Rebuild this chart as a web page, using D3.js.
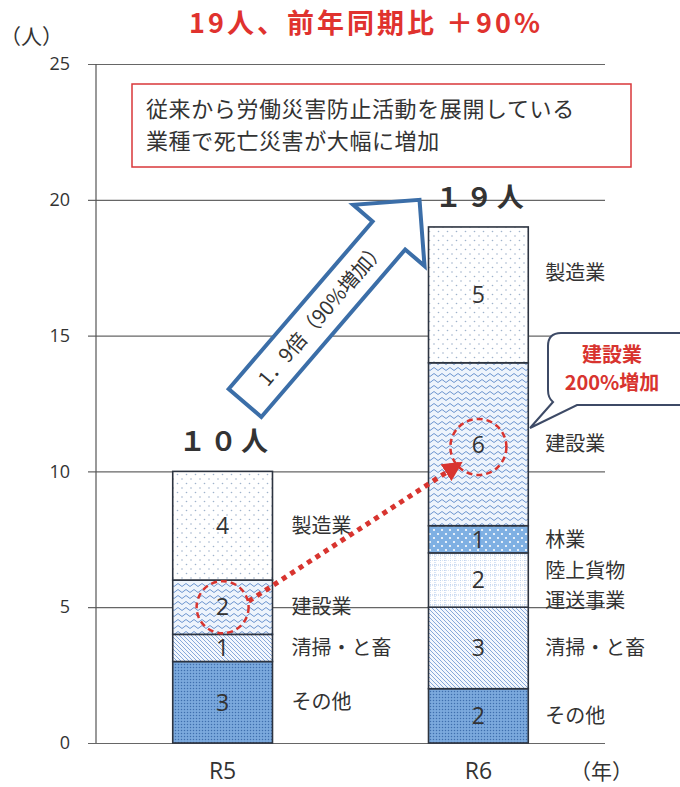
<!DOCTYPE html>
<html><head><meta charset="utf-8">
<script src="https://cdn.jsdelivr.net/npm/d3@7"></script>
<style>
body{margin:0;background:#fff;}
text{font-family:"Noto Sans CJK JP","Noto Sans",sans-serif;}
</style></head>
<body><svg id="c" width="680" height="787"></svg>
<script>
// ---- data ----
const years = ["R5", "R6"];
const categories = ["その他", "清掃・と畜", "陸上貨物運送事業", "林業", "建設業", "製造業"];
const catLabels = [["その他"], ["清掃・と畜"], ["陸上貨物", "運送事業"], ["林業"], ["建設業"], ["製造業"]];
const valuesR5 = [3, 1, 0, 0, 2, 4];
const valuesR6 = [2, 3, 2, 1, 6, 5];
const totalLabels = ["１０人", "１９人"];
const yTicks = [0, 5, 10, 15, 20, 25];
const title = "19人、前年同期比 ＋90%";
const noteLines = ["従来から労働災害防止活動を展開している", "業種で死亡災害が大幅に増加"];
const arrowText = "1．9倍（90%増加）";
const calloutLines = ["建設業", "200%増加"];

const svg = d3.select("#c");
const defs = svg.append("defs");

// ---- patterns ----
function pat(id, w, h, bg, draw) {
  const p = defs.append("pattern").attr("id", id).attr("patternUnits", "userSpaceOnUse")
    .attr("width", w).attr("height", h);
  p.append("rect").attr("width", w).attr("height", h).attr("fill", bg);
  draw(p);
}
pat("p0", 3, 3, "#7ba9dd", p => p.append("circle").attr("cx", 1.5).attr("cy", 1.5).attr("r", 0.75).attr("fill", "#3f6fae"));
pat("p1", 4, 4, "#f3f7fd", p => {
  p.append("path").attr("d", "M-1,-1 L5,5 M-1,3 L1,5 M3,-1 L5,1").attr("stroke", "#86a8da").attr("stroke-width", 1);
});
pat("p2", 10, 10, "#ffffff", p => {
  p.append("path").attr("d", "M0,0 H10 M0,5 H10 M0,0 V10 M5,0 V10").attr("stroke", "#9dbbe4")
   .attr("stroke-width", 0.8).attr("stroke-dasharray", "1,1");
});
pat("p3", 8, 8, "#7fb0e3", p => {
  p.append("circle").attr("cx", 2).attr("cy", 2).attr("r", 1.1).attr("fill", "#ffffff");
  p.append("circle").attr("cx", 6).attr("cy", 6).attr("r", 1.1).attr("fill", "#ffffff");
});
pat("p4", 8, 6, "#eef4fc", p => {
  p.append("path").attr("d", "M0,3 Q2,0 4,3 T8,3").attr("fill", "none").attr("stroke", "#6c94cf").attr("stroke-width", 1);
});
pat("p5", 9, 9, "#ffffff", p => {
  p.append("circle").attr("cx", 2).attr("cy", 2).attr("r", 0.8).attr("fill", "#9fb3cc");
  p.append("circle").attr("cx", 6.5).attr("cy", 6.5).attr("r", 0.8).attr("fill", "#9fb3cc");
});
const fills = ["url(#p0)", "url(#p1)", "url(#p2)", "url(#p3)", "url(#p4)", "url(#p5)"];

// ---- scales ----
const x = d3.scaleBand().domain(years).range([96, 605]).paddingInner(0.61).paddingOuter(0.3);
const y = d3.scaleLinear().domain([0, 25]).range([743, 64]);

// ---- axis & grid ----
const ax = svg.append("g").attr("transform", "translate(96,0)")
  .call(d3.axisLeft(y).tickValues(yTicks).tickSize(-(605 - 96)).tickPadding(26));
ax.select(".domain").remove();
ax.selectAll(".tick line").attr("x1", -8).attr("stroke", "#666").attr("stroke-width", 1.2);
ax.selectAll(".tick text").attr("font-size", 18).attr("fill", "#333")
  .style("font-family", "'Open Sans','Noto Sans',sans-serif");
svg.append("line").attr("x1", 96).attr("x2", 96).attr("y1", y(25)).attr("y2", y(0))
  .attr("stroke", "#555").attr("stroke-width", 1.2);

// ---- stacked bars ----
const rows = years.map((yr, i) => {
  const o = { year: yr };
  categories.forEach((c, j) => o[c] = (i === 0 ? valuesR5 : valuesR6)[j]);
  return o;
});
const series = d3.stack().keys(categories)(rows);
series.forEach((s, j) => {
  s.forEach(d => {
    if (d[1] - d[0] <= 0) return;
    const yr = d.data.year;
    svg.append("rect").attr("x", x(yr)).attr("width", x.bandwidth())
      .attr("y", y(d[1])).attr("height", y(d[0]) - y(d[1]))
      .attr("fill", fills[j]).attr("stroke", "#2d3440").attr("stroke-width", 1.6);
    svg.append("text").attr("x", x(yr) + x.bandwidth() / 2).attr("y", y((d[0] + d[1]) / 2))
      .attr("dy", "0.36em").attr("text-anchor", "middle").attr("font-size", 23).attr("fill", "#333")
      .style("font-family", "'Open Sans','Noto Sans',sans-serif")
      .text(d[1] - d[0]);
    // category labels
    const lines = catLabels[j];
    let cy = y((d[0] + d[1]) / 2);
    if (yr === "R6" && j === 5) cy -= 22;
    const lx = x(yr) + x.bandwidth() + (yr === "R5" ? 19 : 17);
    const t = svg.append("text").attr("x", lx).attr("y", cy - (lines.length - 1) * 9)
      .attr("font-size", 20).attr("fill", "#333");
    lines.forEach((l, k) => t.append("tspan").attr("x", lx).attr("dy", k === 0 ? "0.36em" : 30).text(l));
  });
});

// totals
years.forEach((yr, i) => {
  const tot = (i === 0 ? valuesR5 : valuesR6).reduce((a, b) => a + b, 0);
  svg.append("text").attr("x", x(yr) + x.bandwidth() / 2 + 3).attr("y", y(tot) - 20)
    .attr("text-anchor", "middle").attr("font-size", 27).attr("font-weight", "bold")
    .attr("letter-spacing", 4).attr("fill", "#333").text(totalLabels[i]);
});

// x labels
years.forEach(yr => {
  svg.append("text").attr("x", x(yr) + x.bandwidth() / 2).attr("y", 779).attr("text-anchor", "middle")
    .attr("font-size", 23).attr("fill", "#333").style("font-family", "'Open Sans','Noto Sans',sans-serif").text(yr);
});
svg.append("text").attr("x", 570).attr("y", 779).attr("font-size", 21).attr("fill", "#333").text("（年）");
svg.append("text").attr("x", 0).attr("y", 44).attr("font-size", 21).attr("fill", "#333").text("（人）");

// title
svg.append("text").attr("x", 366).attr("y", 33).attr("text-anchor", "middle").attr("font-size", 27)
  .attr("font-weight", "bold").attr("letter-spacing", 3).attr("fill", "#e0322e").text(title);

// note box
svg.append("rect").attr("x", 132).attr("y", 84).attr("width", 499).attr("height", 83)
  .attr("fill", "#fff").attr("stroke", "#d9373a").attr("stroke-width", 1.5);
noteLines.forEach((l, i) => svg.append("text").attr("x", 146).attr("y", 117 + i * 32)
  .attr("font-size", 22).attr("letter-spacing", 0.6).attr("fill", "#333").text(l));

// big arrow
const tipX = x("R6") - 9, tipY = y(20);
const tailX = 245, tailY = 403;
const ang = Math.atan2(tipY - tailY, tipX - tailX) * 180 / Math.PI;
const L = Math.hypot(tipX - tailX, tipY - tailY);
const ag = svg.append("g").attr("transform", `translate(${tailX},${tailY}) rotate(${ang})`);
ag.append("path").attr("d", `M0,-21.5 L${L - 47},-21.5 L${L - 47},-47 L${L},0 L${L - 47},47 L${L - 47},21.5 L0,21.5 Z`)
  .attr("fill", "#fff").attr("stroke", "#3b6ea8").attr("stroke-width", 4).attr("stroke-linejoin", "miter");
ag.append("text").attr("x", 118).attr("y", 0).attr("dy", "0.36em").attr("text-anchor", "middle")
  .attr("font-size", 20).attr("fill", "#333").text(arrowText);

// red dashed circles
const c5 = [x("R5") + x.bandwidth() / 2, y(5)];
const c6 = [x("R6") + x.bandwidth() / 2, y(10.9)];
svg.append("circle").attr("cx", c5[0]).attr("cy", c5[1]).attr("r", 26).attr("fill", "none")
  .attr("stroke", "#d8342f").attr("stroke-width", 2.5).attr("stroke-dasharray", "6,4");
svg.append("circle").attr("cx", c6[0]).attr("cy", c6[1]).attr("r", 28).attr("fill", "none")
  .attr("stroke", "#d8342f").attr("stroke-width", 2.5).attr("stroke-dasharray", "6,4");

// red dotted arrow
defs.append("marker").attr("id", "rh").attr("viewBox", "0 0 10 10").attr("refX", 8).attr("refY", 5)
  .attr("markerWidth", 4).attr("markerHeight", 4).attr("orient", "auto")
  .append("path").attr("d", "M0,0 L10,5 L0,10 Z").attr("fill", "#d8342f");
svg.append("line").attr("x1", c5[0] + 26).attr("y1", c5[1] - 6).attr("x2", c6[0] - 19).attr("y2", c6[1] + 17)
  .attr("stroke", "#d8342f").attr("stroke-width", 5).attr("stroke-dasharray", "5,5").attr("marker-end", "url(#rh)");

// callout bubble
svg.append("path").attr("d", "M561,333 H700 V405 H577 L530,428 L553,402 Q548,398 548,390 V346 Q548,333 561,333 Z")
  .attr("fill", "#fff").attr("stroke", "#3d4a66").attr("stroke-width", 2);
calloutLines.forEach((l, i) => svg.append("text").attr("x", 612).attr("y", 362 + i * 28)
  .attr("text-anchor", "middle").attr("font-size", 20).attr("font-weight", "bold").attr("fill", "#d8342f").text(l));
</script></body></html>
